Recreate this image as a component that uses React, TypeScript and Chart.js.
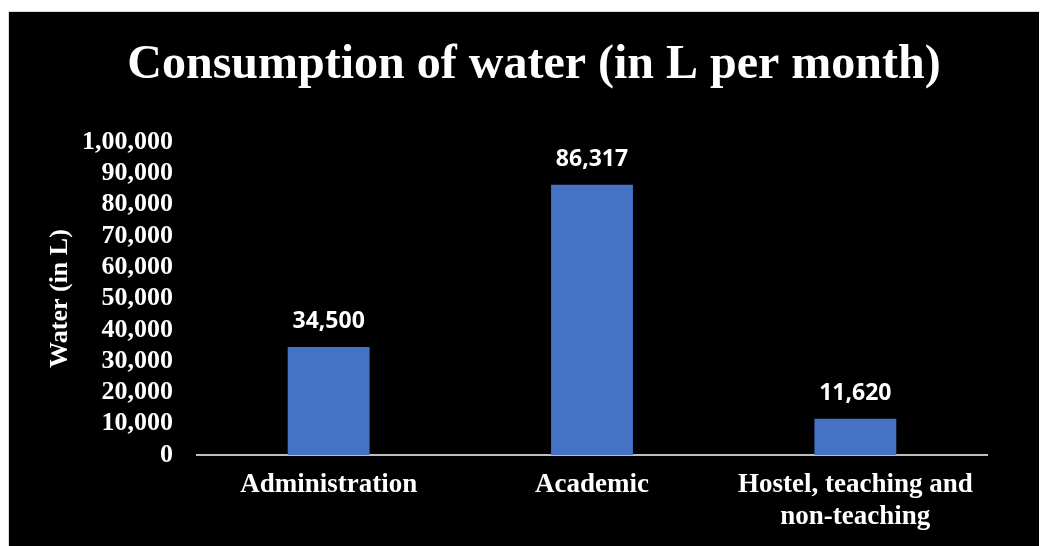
import React, { useEffect, useRef } from "react";
import { Chart, registerables } from "chart.js";

Chart.register(...registerables);

const categories: (string | string[])[] = [
  "Administration",
  "Academic",
  ["Hostel, teaching and", "non-teaching"],
];
const waterValues: number[] = [34500, 86317, 11620];
const yTicks: number[] = [0, 10000, 20000, 30000, 40000, 50000, 60000, 70000, 80000, 90000, 100000];

const chartTitle = "Consumption of water (in L per month)";
const yAxisTitle = "Water (in L)";

function indianFormat(n: number): string {
  const s = String(Math.round(n));
  if (s.length <= 3) return s;
  const last3 = s.slice(-3);
  const rest = s.slice(0, -3).replace(/\B(?=(\d{2})+(?!\d))/g, ",");
  return rest + "," + last3;
}

const SERIF = "'Liberation Serif', 'Times New Roman', serif";

const dataLabelPlugin = {
  id: "barValueLabels",
  afterDatasetsDraw(chart: any) {
    const ctx = chart.ctx;
    ctx.save();
    ctx.fillStyle = "#ffffff";
    ctx.font = "bold 23px 'Open Sans', sans-serif";
    ctx.textAlign = "center";
    ctx.textBaseline = "alphabetic";
    chart.data.datasets.forEach((ds: any, di: number) => {
      const meta = chart.getDatasetMeta(di);
      meta.data.forEach((bar: any, i: number) => {
        ctx.fillText(indianFormat(ds.data[i]), bar.x, bar.y - 19);
      });
    });
    ctx.restore();
  },
};

const titleCenterPlugin = {
  id: "titleCenter",
  afterLayout(chart: any) {
    const t = chart.titleBlock;
    if (t) {
      const w = t.right - t.left;
      const c = 525;
      t.left = c - w / 2;
      t.right = c + w / 2;
    }
  },
};

export default function App() {
  const canvasRef = useRef<HTMLCanvasElement | null>(null);

  useEffect(() => {
    if (!canvasRef.current) return;
    const chart = new Chart(canvasRef.current, {
      type: "bar",
      data: {
        labels: categories,
        datasets: [
          {
            label: "Water",
            data: waterValues,
            backgroundColor: "#4472C4",
            barPercentage: 0.311,
            categoryPercentage: 1,
          },
        ],
      },
      options: {
        responsive: false,
        animation: false,
        layout: { padding: { left: 0, right: 60, top: 0, bottom: 0 } },
        plugins: {
          legend: { display: false },
          tooltip: { enabled: false },
          title: {
            display: true,
            text: chartTitle,
            color: "#ffffff",
            font: { family: SERIF, size: 48, weight: "bold", lineHeight: 1.2 },
            padding: { top: 25, bottom: 47.4 },
          },
        },
        scales: {
          x: {
            grid: { display: false, drawTicks: false },
            border: { display: true, color: "#BFBFBF", width: 2 },
            ticks: {
              color: "#ffffff",
              font: { family: SERIF, size: 27, weight: "bold", lineHeight: 1.15 },
              padding: 15,
              maxRotation: 0,
              autoSkip: false,
            },
            afterFit: (scale: any) => {
              scale.height = 91;
            },
          },
          y: {
            min: 0,
            max: 100000,
            grid: { display: false, drawTicks: false },
            border: { display: false },
            afterBuildTicks: (scale: any) => {
              scale.ticks = yTicks.map((v) => ({ value: v }));
            },
            ticks: {
              color: "#ffffff",
              font: { family: SERIF, size: 26, weight: "bold" },
              padding: 24,
              autoSkip: false,
              callback: (v: any) => indianFormat(Number(v)),
            },
            title: {
              display: true,
              text: yAxisTitle,
              color: "#ffffff",
              font: { family: SERIF, size: 26, weight: "bold", lineHeight: 1.2 },
              padding: { top: 36, bottom: 0 },
            },
            afterFit: (scale: any) => {
              scale.width = 188;
            },
          },
        },
      },
      plugins: [dataLabelPlugin, titleCenterPlugin],
    });
    return () => chart.destroy();
  }, []);

  return (
    <>
      <style>{`html,body{overflow:hidden}`}</style>
      <div
        style={{
          marginTop: 3,
          width: 1038,
          height: 534,
          background: "#000000",
          borderLeft: "1px solid #d9d9d9",
          borderTop: "1px solid #d9d9d9",
        }}
      >
        <canvas ref={canvasRef} width={1038} height={534} style={{ display: "block" }} />
      </div>
    </>
  );
}
